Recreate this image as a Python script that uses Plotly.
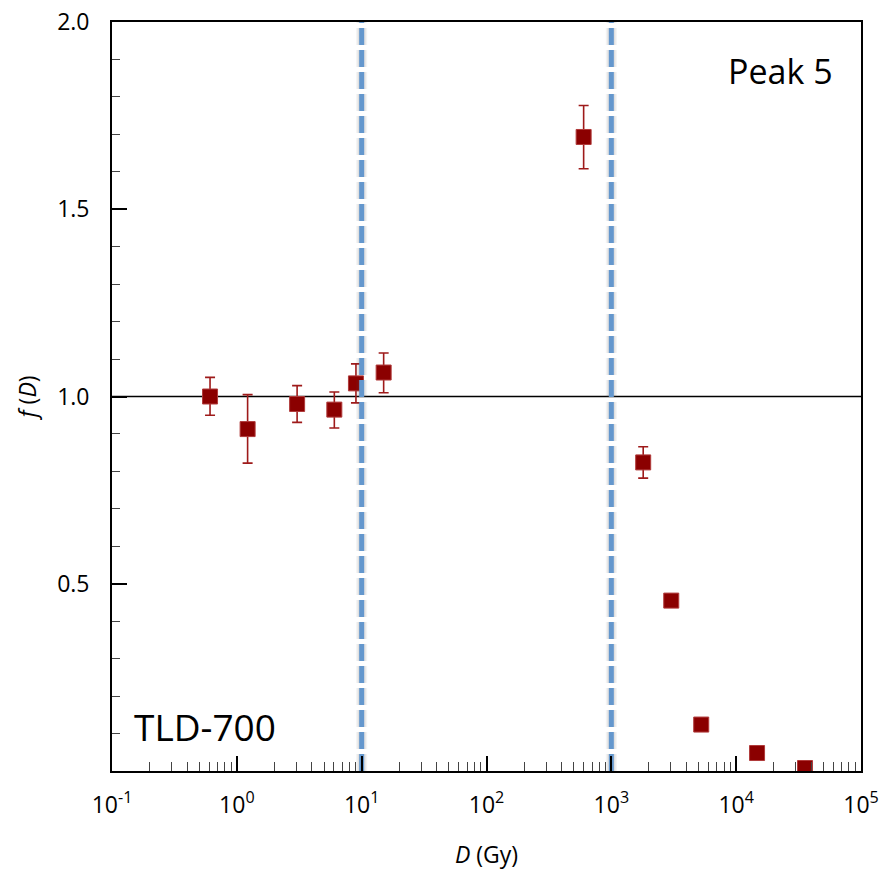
import plotly.graph_objects as go

# Dose (Gy) and normalised response f(D) for TLD-700, peak 5
dose = [0.61, 1.22, 3.04, 6.04, 9.0, 15.0, 600, 1800, 3020, 5250, 14700, 35600]
f_d = [1.000, 0.913, 0.980, 0.965, 1.035, 1.064, 1.693, 0.824, 0.455, 0.124, 0.048, 0.008]
err_up = [0.051, 0.092, 0.049, 0.047, 0.052, 0.052, 0.084, 0.042, 0.012, 0.0, 0.0, 0.0]
err_dn = [0.050, 0.091, 0.049, 0.049, 0.052, 0.054, 0.085, 0.042, 0.015, 0.0, 0.0, 0.0]

# Boundaries between dose regions
region_bounds = [10, 1000]
x_range = [0.1, 1e5]
y_range = [0.0, 2.0]

x_major = [10 ** k for k in range(-1, 6)]
x_major_text = ["10<sup>%d</sup>" % k for k in range(-1, 6)]
x_minor = [m * 10 ** k for k in range(-1, 5) for m in range(2, 10)]
y_major = [0.5, 1.0, 1.5, 2.0]
y_major_text = ["0.5", "1.0", "1.5", "2.0"]
y_minor = [round(0.1 * i, 1) for i in range(1, 20) if i % 5 != 0]

FONT = "Open Sans"
RED = "#8b0000"
BLUE = "#6497cd"

fig = go.Figure()

# reference level f(D) = 1
fig.add_trace(go.Scatter(
    x=x_range, y=[1.0, 1.0], mode="lines",
    line=dict(color="black", width=1.3), hoverinfo="skip", showlegend=False))

fig.add_trace(go.Scatter(
    x=dose, y=f_d, mode="markers",
    marker=dict(symbol="square", size=15, color=RED,
                line=dict(color="#b03a3a", width=1)),
    error_y=dict(type="data", symmetric=False, array=err_up, arrayminus=err_dn,
                 color="#9e1a1a", thickness=1.6, width=5),
    showlegend=False))

# dashed region boundaries with a soft shadow
for xb in region_bounds:
    for w, a in [(11, 0.07), (8, 0.12)]:
        fig.add_trace(go.Scatter(
            x=[xb, xb], y=y_range, mode="lines",
            line=dict(color="rgba(90,90,90,%.2f)" % a, width=w, dash="17px,5px"),
            hoverinfo="skip", showlegend=False))
    fig.add_trace(go.Scatter(
        x=[xb, xb], y=y_range, mode="lines",
        line=dict(color=BLUE, width=5, dash="17px,5px"),
        hoverinfo="skip", showlegend=False))

fig.add_annotation(x=0.893, y=0.935, xref="paper", yref="paper",
                   xanchor="center", yanchor="middle",
                   text="Peak 5", showarrow=False,
                   font=dict(family=FONT, size=34, color="black"))
fig.add_annotation(x=0.124, y=0.06, xref="paper", yref="paper",
                   xanchor="center", yanchor="middle",
                   text="TLD-700", showarrow=False,
                   font=dict(family=FONT, size=37, color="black"))

fig.update_layout(
    width=883, height=873,
    margin=dict(l=112, r=22, t=22, b=102),
    paper_bgcolor="white", plot_bgcolor="white",
    font=dict(family=FONT, size=22, color="black"),
)

fig.update_xaxes(
    type="log", range=[-1, 5], automargin=False,
    tickmode="array", tickvals=x_major, ticktext=x_major_text,
    ticks="inside", ticklen=15, tickwidth=1.5, tickcolor="black",
    minor=dict(tickmode="array", tickvals=x_minor, ticks="inside",
               ticklen=9, tickwidth=1.2, tickcolor="#444", showgrid=False),
    showline=True, linecolor="black", linewidth=1.8, mirror=True,
    showgrid=False, zeroline=False,
    tickfont=dict(family=FONT, size=23),
    ticklabelstandoff=12,
    title=dict(text="<i>D</i> (Gy)", font=dict(family=FONT, size=23), standoff=28),
)

fig.update_yaxes(
    range=y_range, automargin=False,
    tickmode="array", tickvals=y_major, ticktext=y_major_text,
    ticks="inside", ticklen=15, tickwidth=1.5, tickcolor="black",
    minor=dict(tickmode="array", tickvals=y_minor, ticks="inside",
               ticklen=8, tickwidth=1.2, tickcolor="#444", showgrid=False),
    showline=True, linecolor="black", linewidth=1.8, mirror=True,
    showgrid=False, zeroline=False,
    tickfont=dict(family=FONT, size=23),
    ticklabelstandoff=16,
    title=dict(text="<i>f</i> (<i>D</i>)", font=dict(family=FONT, size=23), standoff=14),
)

fig.write_html("out.html")
